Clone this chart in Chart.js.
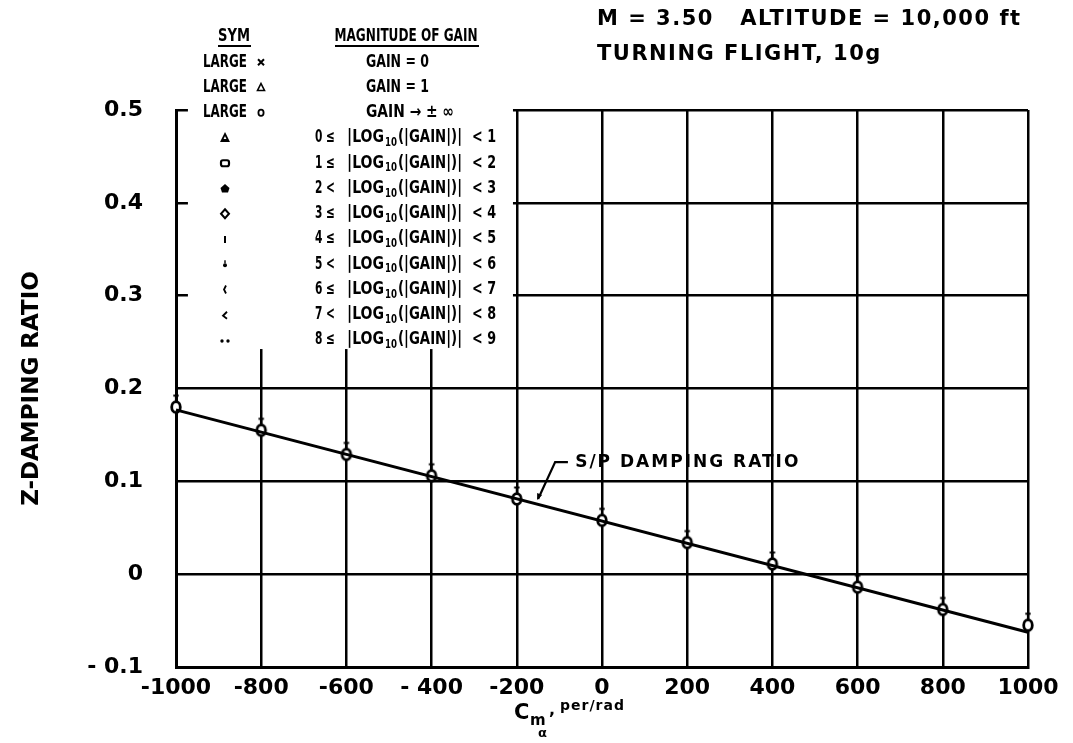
<!DOCTYPE html>
<html><head><meta charset="utf-8">
<script src="https://cdn.jsdelivr.net/npm/chart.js@4.4.1/dist/chart.umd.min.js"></script>
<style>html,body{margin:0;padding:0;background:#fff}#wrap{width:1073px;height:743px}</style>
</head><body><div id="wrap"><canvas id="c" width="1073" height="743"></canvas></div>
<script>
// ---- data ----
const xTicks = [-1000,-800,-600,-400,-200,0,200,400,600,800,1000];
const xTickLabels = ['-1000','-800','-600','- 400','-200','0','200','400','600','800','1000'];
const yTicks = [-0.1,0,0.1,0.2,0.3,0.4,0.5];
const yTickLabels = ['- 0.1','0','0.1','0.2','0.3','0.4','0.5'];
const cmAlpha = [-1000,-800,-600,-400,-200,0,200,400,600,800,1000];
const zDamping = [0.180,0.155,0.129,0.106,0.081,0.058,0.034,0.011,-0.014,-0.038,-0.055];
const spLineX = [-1000,1000];
const spLineY = [0.177,-0.0625];
const titleLines = ['M = 3.50   ALTITUDE = 10,000 ft','TURNING FLIGHT, 10g'];
const yTitle = 'Z-DAMPING RATIO';
const spLabel = 'S/P DAMPING RATIO';
const legendHeader = ['SYM','MAGNITUDE OF GAIN'];
const largeSyms = ['cross','triangle','circle'];
const largeText = ['GAIN = 0','GAIN = 1','GAIN \u2192 \u00b1 \u221e'];
const smallSyms = ['tri','square','star','ring','bar','dot','paren','angle','dots'];
const logLower = ['0','1','2','3','4','5','6','7','8'];
const logOp = ['\u2264','\u2264','<','\u2264','\u2264','<','\u2264','<','\u2264'];
const logUpper = ['1','2','3','4','5','6','7','8','9'];

// ---- marker image (circle with small tick above) ----
const markerImg = (() => {
  const c = document.createElement('canvas'); c.width = 18; c.height = 36;
  const g = c.getContext('2d');
  g.strokeStyle = '#000'; g.fillStyle = '#fff'; g.lineWidth = 2.8;
  g.beginPath(); g.ellipse(9, 18, 4.3, 5.4, 0, 0, Math.PI*2); g.fill(); g.stroke();
  g.lineWidth = 2.2; g.beginPath(); g.moveTo(9, 6); g.lineTo(9, 12.5); g.moveTo(6.3, 6.5); g.lineTo(11.7, 6.5); g.stroke();
  return c;
})();

const TF = "'DejaVu Sans', 'Liberation Sans', sans-serif";
const NF = "'Liberation Sans Narrow', 'DejaVu Sans Condensed', 'Liberation Sans', sans-serif";

function txt(ctx, s, x, y, font, align, maxW, spacing) {
  ctx.font = font; ctx.textAlign = align || 'left'; ctx.textBaseline = 'middle';
  if ('letterSpacing' in ctx) ctx.letterSpacing = spacing || '0px';
  if (maxW) ctx.fillText(s, x, y, maxW); else ctx.fillText(s, x, y);
  if ('letterSpacing' in ctx) ctx.letterSpacing = '0px';
}

function drawSym(ctx, kind, x, y) {
  ctx.save();
  ctx.strokeStyle = '#000'; ctx.fillStyle = '#000'; ctx.lineWidth = 2;
  ctx.beginPath();
  switch (kind) {
    case 'cross': ctx.moveTo(x-3,y-3); ctx.lineTo(x+3,y+3); ctx.moveTo(x+3,y-3); ctx.lineTo(x-3,y+3); ctx.stroke(); break;
    case 'triangle': ctx.lineWidth=1.6; ctx.moveTo(x,y-4); ctx.lineTo(x+3.5,y+3); ctx.lineTo(x-3.5,y+3); ctx.closePath(); ctx.stroke(); break;
    case 'circle': ctx.lineWidth=1.8; ctx.ellipse(x,y,2.6,3.2,0,0,Math.PI*2); ctx.stroke(); break;
    case 'tri': ctx.lineWidth=1.8; ctx.moveTo(x,y-4); ctx.lineTo(x+3.5,y+3); ctx.lineTo(x-3.5,y+3); ctx.closePath(); ctx.stroke(); ctx.fillRect(x-3,y+1,6,2); break;
    case 'square': ctx.lineWidth=2.2; ctx.roundRect(x-4,y-3,8,6,2); ctx.stroke(); break;
    case 'star': ctx.moveTo(x,y-4.5); ctx.lineTo(x+4.5,y-0.5); ctx.lineTo(x+3,y+4); ctx.lineTo(x-3,y+4); ctx.lineTo(x-4.5,y-0.5); ctx.closePath(); ctx.fill(); break;
    case 'ring': ctx.lineWidth=2; ctx.moveTo(x,y-4.5); ctx.lineTo(x+4,y); ctx.lineTo(x,y+4.5); ctx.lineTo(x-4,y); ctx.closePath(); ctx.stroke(); break;
    case 'bar': ctx.moveTo(x,y-3); ctx.lineTo(x,y+4); ctx.stroke(); break;
    case 'dot': ctx.arc(x,y+1,2,0,Math.PI*2); ctx.fill(); ctx.fillRect(x-0.7,y-4,1.4,3); break;
    case 'paren': ctx.lineWidth=1.8; ctx.moveTo(x+1,y-4); ctx.lineTo(x-1,y); ctx.lineTo(x+1,y+4); ctx.stroke(); break;
    case 'angle': ctx.lineWidth=1.8; ctx.moveTo(x+2,y-3); ctx.lineTo(x-2,y+1); ctx.lineTo(x+2,y+4); ctx.stroke(); break;
    case 'dots': ctx.arc(x-3,y+1,1.7,0,Math.PI*2); ctx.arc(x+3,y+1,1.7,0,Math.PI*2); ctx.fill(); break;
  }
  ctx.restore();
}

const overlay = {
  id: 'overlay',
  afterDatasetsDraw(chart) {
    const {ctx, scales: {x, y}} = chart;
    ctx.save();
    ctx.fillStyle = '#fff';
    const bx0 = x.getPixelForValue(-972), bx1 = x.getPixelForValue(-209);
    const by1 = y.getPixelForValue(0.2425);
    ctx.fillRect(bx0, 96, bx1 - bx0, by1 - 96);
    ctx.fillStyle = '#000'; ctx.strokeStyle = '#000';

    // legend
    const rowY = i => 37 + i * 25.25;
    const LF = 'bold 17px ' + NF;
    txt(ctx, legendHeader[0], 234, rowY(0), LF, 'center', 32);
    txt(ctx, legendHeader[1], 406, rowY(0), LF, 'center', 143);
    ctx.lineWidth = 2;
    ctx.beginPath(); ctx.moveTo(218, rowY(0)+9); ctx.lineTo(251, rowY(0)+9);
    ctx.moveTo(335, rowY(0)+9); ctx.lineTo(479, rowY(0)+9); ctx.stroke();
    for (let i = 0; i < 3; i++) {
      const yy = rowY(i+1);
      txt(ctx, 'LARGE', 203, yy, LF, 'left', 44);
      drawSym(ctx, largeSyms[i], 261, yy);
      txt(ctx, largeText[i], 366, yy, LF, 'left', i === 2 ? 88 : 63);
    }
    for (let i = 0; i < 9; i++) {
      const yy = rowY(i+4);
      drawSym(ctx, smallSyms[i], 225, yy);
      txt(ctx, logLower[i] + ' ' + logOp[i], 315, yy, LF, 'left', 20);
      txt(ctx, '|LOG', 347, yy, LF, 'left', 37);
      txt(ctx, '10', 385, yy + 5, 'bold 12px ' + NF, 'left', 12);
      txt(ctx, '(|GAIN|)|', 398, yy, LF, 'left', 64);
      txt(ctx, '< ' + logUpper[i], 472, yy, LF, 'left', 24);
    }

    // title
    txt(ctx, titleLines[0], 597, 20, 'bold 21px ' + TF, 'left', 430, '1.5px');
    txt(ctx, titleLines[1], 597, 55, 'bold 21px ' + TF, 'left', 290, '1.5px');

    // S/P annotation
    const lx = x.getPixelForValue(-63), ly = y.getPixelForValue(0.1207);
    txt(ctx, spLabel, lx, ly, 'bold 17px ' + TF, 'left', 230, '2px');
    const hx0 = x.getPixelForValue(-110), hx1 = x.getPixelForValue(-80);
    const ax = x.getPixelForValue(-150), ay = y.getPixelForValue(0.081);
    ctx.lineWidth = 2.2;
    ctx.beginPath(); ctx.moveTo(hx1, ly); ctx.lineTo(hx0, ly); ctx.lineTo(ax, ay); ctx.stroke();
    ctx.beginPath(); ctx.moveTo(ax - 1, ay + 1); ctx.lineTo(ax - 1, ay - 6); ctx.lineTo(ax + 4, ay - 4); ctx.closePath(); ctx.fill();

    // x-axis title
    txt(ctx, 'C', 514, 714, 'bold 21px ' + TF, 'left');
    txt(ctx, 'm', 530, 721, 'bold 15px ' + TF, 'left');
    txt(ctx, '\u03b1', 538, 734, 'bold 13px ' + TF, 'left');
    txt(ctx, ',', 549, 711, 'bold 16px ' + TF, 'left');
    txt(ctx, 'per/rad', 560, 706, 'bold 14px ' + TF, 'left', 66, '1px');
    ctx.restore();
  }
};

const gridStyle = { color: '#000', lineWidth: 2.5, drawTicks: false };
const borderStyle = { display: true, color: '#000', width: 3 };

new Chart(document.getElementById('c'), {
  type: 'scatter',
  data: {
    datasets: [
      { label: 'S/P damping ratio', data: spLineX.map((v, i) => ({x: v, y: spLineY[i]})),
        showLine: true, borderColor: '#000', borderWidth: 3, pointRadius: 0, clip: false },
      { label: 'Z-damping ratio', data: cmAlpha.map((v, i) => ({x: v, y: zDamping[i]})),
        showLine: false, pointStyle: markerImg, pointRadius: 6, clip: false }
    ]
  },
  options: {
    responsive: false, animation: false, devicePixelRatio: 1,
    layout: { padding: { left: 0, right: 45, top: 110, bottom: 0 } },
    plugins: { legend: { display: false }, tooltip: { enabled: false } },
    scales: {
      x: {
        type: 'linear', min: -1000, max: 1000,
        afterBuildTicks: s => { s.ticks = xTicks.map(v => ({value: v})); },
        afterFit: s => { s.height = 76; },
        grid: gridStyle, border: borderStyle,
        ticks: { autoSkip: false, maxRotation: 0, padding: 8, color: '#000',
          font: { family: TF, size: 22, weight: 'bold' },
          callback: (v, i) => xTickLabels[i] }
      },
      y: {
        type: 'linear', min: -0.1, max: 0.5,
        afterBuildTicks: s => { s.ticks = yTicks.map(v => ({value: v})); },
        afterFit: s => { s.width = 176; },
        grid: gridStyle, border: borderStyle,
        title: { display: true, text: yTitle, color: '#000', padding: { top: 18, bottom: 0 },
          font: { family: TF, size: 23, weight: 'bold' } },
        ticks: { padding: 33, color: '#000',
          font: { family: TF, size: 22, weight: 'bold' },
          callback: (v, i) => yTickLabels[i] }
      }
    }
  },
  plugins: [overlay]
});
</script>
</body></html>
